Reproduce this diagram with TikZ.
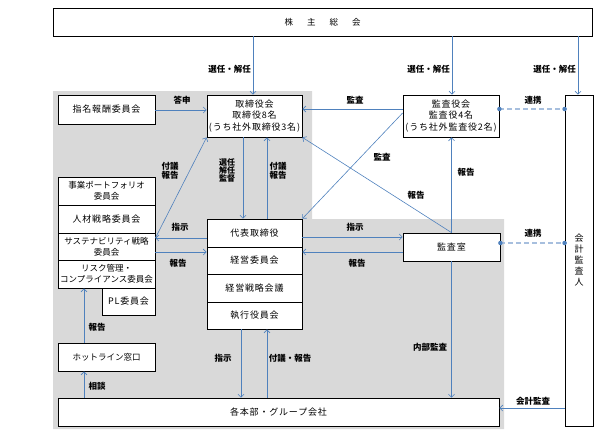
\documentclass[tikz,border=0pt]{standalone}
\usepackage{fontspec}
\setmainfont{Noto Sans CJK JP}
\newfontfamily\spfont{Noto Sans CJK JP}[LetterSpace=9]
\usetikzlibrary{arrows.meta,calc}
\definecolor{ln}{HTML}{4F81BD}
\definecolor{dl}{HTML}{A7BFDE}
\definecolor{bg}{HTML}{D9D9D9}
\begin{document}
\begin{tikzpicture}[x=1pt,y=-1pt,
 box/.style={draw=black,line width=0.8pt,fill=white,inner sep=0pt,align=center,font=\fontsize{8.5}{11}\selectfont},
 wbox/.style={box,font=\spfont\fontsize{9}{11.5}\selectfont},
 lbl/.style={font=\fontsize{8.5}{9}\selectfont\bfseries,inner sep=0pt,align=center},
 arr/.style={draw=ln,line width=0.6pt,-{Straight Barb[length=3pt,width=6pt]}},
 dsh/.style={draw=dl,line width=2pt,dash pattern=on 5pt off 3pt},
 dotm/.style={circle,fill=ln,inner sep=0pt,minimum size=4.5pt}]
\useasboundingbox (0,0) rectangle (604,442);
\fill[bg] (53,91) -- (312,91) -- (312,219) -- (504,219) -- (504,429) -- (53,429) -- cycle;
% boxes
\node[box,minimum width=539pt,minimum height=28pt] (gm) at (322.5,22) {株\hspace{14pt}主\hspace{14pt}総\hspace{14pt}会};
\node[wbox,minimum width=97pt,minimum height=29pt] (nom) at (106.5,109.5) {指名報酬委員会};
\node[wbox,minimum width=95pt,minimum height=42pt] (bod) at (254.5,116) {取締役会\\取締役8名\\(うち社外取締役3名)};
\node[wbox,minimum width=96pt,minimum height=42pt] (kan) at (451,116) {監査役会\\監査役4名\\(うち社外監査役2名)};
\node[box,minimum width=28pt,minimum height=331pt,font=\fontsize{9}{11}\selectfont] (audit) at (579,260.5) {会\\計\\監\\査\\人};
\node[box,minimum width=97pt,minimum height=28pt] (s1) at (106.5,191) {事業ポートフォリオ\\委員会};
\node[wbox,minimum width=97pt,minimum height=28pt] (s2) at (106.5,219) {人材戦略委員会};
\node[box,minimum width=97pt,minimum height=27pt] (s3) at (106.5,246.5) {サステナビリティ戦略\\委員会};
\node[box,minimum width=97pt,minimum height=28pt] (s4) at (106.5,274) {リスク管理・\\コンプライアンス委員会};
\node[wbox,minimum width=53pt,minimum height=27pt] (pl) at (128.5,301.5) {PL委員会};
\node[wbox,minimum width=95pt,minimum height=28pt] (r1) at (254.5,233) {代表取締役};
\node[wbox,minimum width=95pt,minimum height=27pt] (r2) at (254.5,260.5) {経営委員会};
\node[wbox,minimum width=95pt,minimum height=28pt] (r3) at (254.5,288) {経営戦略会議};
\node[wbox,minimum width=95pt,minimum height=27pt] (r4) at (254.5,315.5) {執行役員会};
\node[wbox,minimum width=97pt,minimum height=28pt] (kansa) at (451.5,247) {監査室};
\node[box,minimum width=97pt,minimum height=28pt] (hot) at (106.5,357) {ホットライン窓口};
\node[wbox,minimum width=441pt,minimum height=28pt] (grp) at (278.5,412) {各本部・グループ会社};
% connectors from shareholders
\draw[arr] ([xshift=-1.5pt]bod.north |- gm.south) -- ([xshift=-1.5pt]bod.north);
\draw[arr] ([xshift=1pt]kan.north |- gm.south) -- ([xshift=1pt]kan.north);
\draw[arr] ([xshift=-1pt]audit.north |- gm.south) -- ([xshift=-1pt]audit.north);
\node[lbl,anchor=east] at (251,69) {選任・解任};
\node[lbl,anchor=east] at (450,69) {選任・解任};
\node[lbl,anchor=east] at (576,69) {選任・解任};
% nomination
\draw[arr] ([yshift=-0.5pt]nom.east) -- ([yshift=-0.5pt]nom.east -| bod.west);
\node[lbl] at (182,100) {答申};
% kansayakukai
\coordinate (k1) at ([yshift=7pt]kan.west);
\draw[arr] (k1) -- (k1 -| bod.east);
\node[lbl] at (355,100) {監査};
\coordinate (k2) at ([yshift=7pt]kan.east);
\draw[dsh] (k2) -- (k2 -| audit.west);
\node[dotm] at (k2) {};
\node[dotm] at (k2 -| audit.west) {};
\node[lbl] at (533,100) {連携};
\draw[arr] ([yshift=3pt]kan.west) -- (r1.north east);
\node[lbl] at (382,157) {監査};
\draw[arr] (kansa.north) -- (bod.south east);
\node[lbl] at (416,195) {報告};
\draw[arr] (kansa.north) -- (kan.south -| kansa.north);
\node[lbl] at (466,172) {報告};
\draw[arr] (kansa.south) -- (kansa.south |- grp.north);
\node[lbl] at (430,347) {内部監査};
% board <-> representative
\draw[arr] ([xshift=-11.5pt]bod.south) -- ([xshift=-11.5pt]r1.north);
\node[lbl,font=\fontsize{8}{8}\selectfont\bfseries] at (227,170) {選任\\解任\\監督};
\draw[arr] ([xshift=12.5pt]r1.north) -- ([xshift=12.5pt]bod.south);
\node[lbl] at (278,171) {付議\\報告};
% left committees
\coordinate (c1) at ([yshift=-5pt]r1.west);
\draw[arr] (c1) -- (c1 -| s3.east);
\node[lbl] at (180,227) {指示};
\coordinate (c2) at ([yshift=-5.5pt]s3.east);
\draw[arr] (c2) -- (c2 -| r2.west);
\node[lbl] at (178,263) {報告};
\draw[arr] (c1 -| s3.east) -- (bod.south west);
\node[lbl] at (170,171) {付議\\報告};
% audit room
\coordinate (c3) at ([yshift=-4pt]r1.east);
\draw[arr] (c3) -- (c3 -| kansa.west);
\node[lbl] at (355,227) {指示};
\coordinate (c4) at ([yshift=-5pt]kansa.west);
\draw[arr] (c4) -- (c4 -| r2.east);
\node[lbl] at (357,263) {報告};
\coordinate (c5) at ([yshift=4pt]kansa.east);
\draw[dsh] (c5) -- (c5 -| audit.west);
\node[dotm] at (c5) {};
\node[dotm] at (c5 -| audit.west) {};
\node[lbl] at (533,233) {連携};
% executive <-> group
\draw[arr] ([xshift=-13.5pt]r4.south) -- ([xshift=-13.5pt]r4.south |- grp.north);
\node[lbl] at (223,358) {指示};
\draw[arr] ([xshift=12.5pt]r4.south |- grp.north) -- ([xshift=12.5pt]r4.south);
\node[lbl] at (290,358) {付議・報告};
% hotline
\draw[arr] ([xshift=-22.5pt]hot.north) -- ([xshift=-22.5pt]hot.north |- s4.south);
\node[lbl] at (97,327) {報告};
\draw[arr] ([xshift=-22.5pt]hot.south |- grp.north) -- ([xshift=-22.5pt]hot.south);
\node[lbl] at (97,386) {相談};
% accounting audit
\coordinate (c6) at ([yshift=4pt]grp.east);
\draw[arr] (c6 -| audit.west) -- (c6);
\node[lbl] at (533,401) {会計監査};
\end{tikzpicture}
\end{document}
